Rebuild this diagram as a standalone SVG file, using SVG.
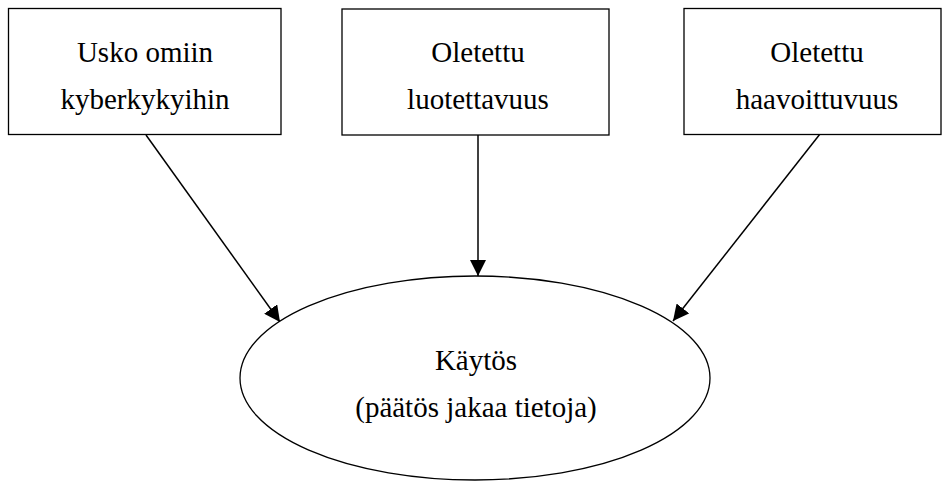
<svg xmlns="http://www.w3.org/2000/svg" width="944" height="481" viewBox="0 0 944 481">
  <defs>
    <marker id="arrow" viewBox="0 0 16 16" refX="16" refY="8" markerWidth="16" markerHeight="16" markerUnits="userSpaceOnUse" orient="auto">
      <path d="M0,0 L16,8 L0,16 Z" fill="#000"/>
    </marker>
    <style>
      .box { fill: #fff; stroke: #000; stroke-width: 1.3; }
      .label { font-family: "Liberation Serif", "Times New Roman", serif; font-size: 29px; fill: #000; text-anchor: middle; }
      .edge { stroke: #000; stroke-width: 1.5; fill: none; marker-end: url(#arrow); }
    </style>
  </defs>
  <rect width="944" height="481" fill="#fff"/>

  <g id="connectors">
    <line class="edge" x1="146" y1="135" x2="280" y2="322"/>
    <line class="edge" x1="478" y1="135" x2="478" y2="276"/>
    <line class="edge" x1="820" y1="134" x2="673" y2="321"/>
  </g>

  <g id="node-usko">
    <rect class="box" x="8.5" y="8.5" width="272.5" height="126"/>
    <text class="label" x="145" y="62">Usko omiin</text>
    <text class="label" x="145" y="109">kyberkykyihin</text>
  </g>

  <g id="node-luotettavuus">
    <rect class="box" x="342" y="9" width="267" height="126"/>
    <text class="label" x="478" y="62">Oletettu</text>
    <text class="label" x="478" y="109">luotettavuus</text>
  </g>

  <g id="node-haavoittuvuus">
    <rect class="box" x="684" y="8.5" width="257" height="126"/>
    <text class="label" x="817" y="62">Oletettu</text>
    <text class="label" x="817" y="109">haavoittuvuus</text>
  </g>

  <g id="node-kaytos">
    <ellipse class="box" cx="475" cy="378" rx="235" ry="102"/>
    <text class="label" x="476" y="370">Käytös</text>
    <text class="label" x="476" y="417">(päätös jakaa tietoja)</text>
  </g>
</svg>
